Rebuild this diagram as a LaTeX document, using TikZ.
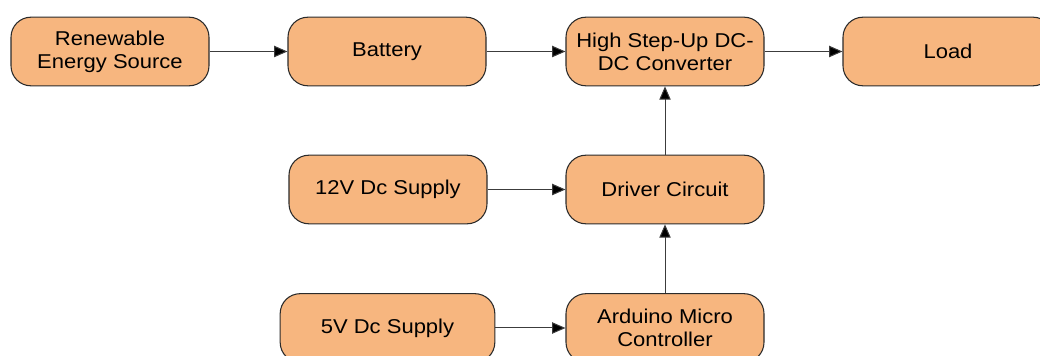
\documentclass[tikz,border=0pt]{standalone}
\usepackage{fontspec}
\setmainfont{Liberation Sans}[FakeStretch=1.1]
\usetikzlibrary{arrows.meta}
\definecolor{boxfill}{HTML}{F7B67F}
\definecolor{boxdraw}{HTML}{2B2B2B}
\definecolor{linegray}{HTML}{3C3C3C}
\tikzset{
  blk/.style={draw=boxdraw, fill=boxfill, line width=0.8pt, rounded corners=15pt,
    minimum height=51.5pt, inner sep=0pt, align=center,
    font=\fontsize{15pt}{17.3pt}\selectfont},
  conn/.style={draw=linegray, line width=0.75pt, -{Triangle[length=10pt,width=8.5pt,fill=black]}}
}
\begin{document}
\begin{tikzpicture}[x=0.75pt,y=-0.75pt]
\useasboundingbox (0,0) rectangle (1040,356);
\clip (0,0) rectangle (1040,356);
\node[blk, minimum width=148.5pt] (res) at (110,51.5) {Renewable\\Energy Source};
\node[blk, minimum width=148.5pt] (bat) at (387,51.5) {Battery};
\node[blk, minimum width=148.5pt] (hsu) at (665,51.5) {High Step-Up DC-\\DC Converter};
\node[blk, minimum width=157.5pt] (load) at (948,51.5) {Load};
\node[blk, minimum width=148.5pt] (v12) at (388,189.5) {12V Dc Supply};
\node[blk, minimum width=148.5pt] (drv) at (665,189.5) {Driver Circuit};
\node[blk, minimum width=161pt] (v5) at (387.5,328) {5V Dc Supply};
\node[blk, minimum width=148.5pt] (ard) at (665,328) {Arduino Micro\\Controller};
\draw[conn] (res) -- (bat);
\draw[conn] (bat) -- (hsu);
\draw[conn] (hsu) -- (load);
\draw[conn] (v12) -- (drv);
\draw[conn] (v5) -- (ard);
\draw[conn] (drv) -- (hsu);
\draw[conn] (ard) -- (drv);
\end{tikzpicture}
\end{document}
